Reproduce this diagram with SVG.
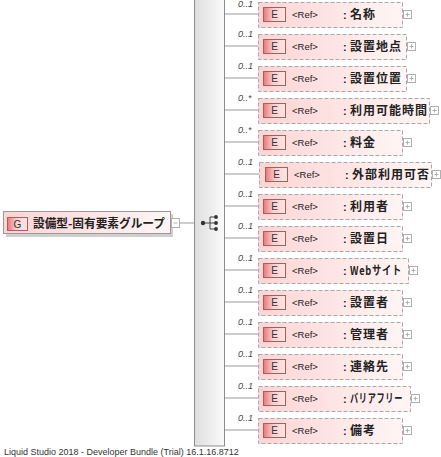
<svg xmlns="http://www.w3.org/2000/svg" width="441" height="457" viewBox="0 0 441 457">
<defs>
<linearGradient id="boxFill" x1="0" y1="0" x2="1" y2="0">
<stop offset="0" stop-color="#fcd4d4"/>
<stop offset="1" stop-color="#fff5f5"/>
</linearGradient>
<linearGradient id="iconFill" x1="0" y1="0" x2="1" y2="0">
<stop offset="0" stop-color="#e47a7a"/>
<stop offset="0.45" stop-color="#fbd0d0"/>
<stop offset="1" stop-color="#fde6e6"/>
</linearGradient>
<linearGradient id="barFill" x1="0" y1="0" x2="1" y2="0">
<stop offset="0" stop-color="#dedede"/>
<stop offset="1" stop-color="#fafafa"/>
</linearGradient>
</defs>
<style>
.box{fill:url(#boxFill);stroke:#a8a8a8;stroke-width:1;stroke-dasharray:4,2}
.icon{fill:url(#iconFill);stroke:#b05a5a;stroke-width:1}
.ilet{font-family:"Liberation Sans",Arial,sans-serif;font-size:10px;fill:#333;text-anchor:middle}
.ref{font-family:"Liberation Sans",Arial,sans-serif;font-size:9.5px;fill:#222}
.col{font-family:"Liberation Sans",Arial,sans-serif;font-size:11px;font-weight:bold;fill:#222}
.nm{font-family:"Noto Sans CJK JP","Liberation Sans",sans-serif;font-size:12px;font-weight:bold;fill:#222;letter-spacing:1px}
.card{font-family:"Liberation Sans",Arial,sans-serif;font-size:9px;font-style:italic;fill:#444}
.plus{fill:#fff;stroke:#b0b0b0;stroke-width:1}
.pl{stroke:#b0b0b0;stroke-width:1}
.conn{stroke:#9a9a9a;stroke-width:1;fill:none}
</style>

<g id="connectors">
<line class="conn" x1="180" y1="223" x2="203" y2="223"/>
<line class="conn" x1="224" y1="14" x2="258" y2="14"/>
<line class="conn" x1="224" y1="46" x2="258" y2="46"/>
<line class="conn" x1="224" y1="78" x2="258" y2="78"/>
<line class="conn" x1="224" y1="110" x2="258" y2="110"/>
<line class="conn" x1="224" y1="142" x2="258" y2="142"/>
<line class="conn" x1="224" y1="174" x2="259" y2="174"/>
<line class="conn" x1="224" y1="206" x2="258" y2="206"/>
<line class="conn" x1="224" y1="238" x2="258" y2="238"/>
<line class="conn" x1="224" y1="270" x2="258" y2="270"/>
<line class="conn" x1="224" y1="302" x2="258" y2="302"/>
<line class="conn" x1="224" y1="334" x2="258" y2="334"/>
<line class="conn" x1="224" y1="366" x2="258" y2="366"/>
<line class="conn" x1="224" y1="398" x2="258" y2="398"/>
<line class="conn" x1="224" y1="430" x2="258" y2="430"/>
</g>

<g id="group-node">
<rect x="6" y="214" width="167" height="23" fill="#cfcfcf"/>
<rect x="3.5" y="211.5" width="167" height="22" fill="url(#boxFill)" stroke="#999"/>
<rect class="icon" x="7.5" y="217.5" width="20" height="13"/>
<text class="ilet" x="17.5" y="228">G</text>
<text x="33" y="227.5" font-family="'Noto Sans CJK JP','Liberation Sans',sans-serif" font-size="12" font-weight="bold" fill="#222" textLength="132" lengthAdjust="spacingAndGlyphs">設備型-固有要素グループ</text>
<rect class="plus" x="171.5" y="218.5" width="8" height="9"/>
<line class="pl" x1="173.5" y1="223" x2="177.5" y2="223"/>
</g>

<g id="sequence">
<rect x="194.5" y="-1" width="30" height="447" fill="url(#barFill)" stroke="#8c8c8c"/>
<line x1="203" y1="223" x2="210" y2="223" stroke="#444" stroke-width="1"/>
<line x1="210" y1="217" x2="210" y2="229" stroke="#444" stroke-width="1"/>
<line x1="210" y1="217" x2="215" y2="217" stroke="#444" stroke-width="1"/>
<line x1="210" y1="229" x2="215" y2="229" stroke="#444" stroke-width="1"/>
<line x1="210" y1="223" x2="215" y2="223" stroke="#444" stroke-width="1"/>
<circle cx="203" cy="223" r="2.2" fill="#333"/>
<circle cx="216" cy="217" r="1.9" fill="#333"/>
<circle cx="216" cy="223" r="1.9" fill="#333"/>
<circle cx="216" cy="229" r="1.9" fill="#333"/>
</g>

<g id="e1">
<text class="card" x="238" y="7">0..1</text>
<rect class="box" x="258.5" y="2.5" width="144" height="25"/>
<rect class="icon" x="263.5" y="7.5" width="22" height="14"/>
<text class="ilet" x="274.5" y="18">E</text>
<text class="ref" x="292" y="18">&lt;Ref&gt;</text>
<text class="col" x="343" y="18.5">:</text>
<text class="nm" x="350" y="18.5">名称</text>
<rect class="plus" x="403.5" y="10.5" width="8" height="8"/>
<line class="pl" x1="405.5" y1="14.5" x2="409.5" y2="14.5"/><line class="pl" x1="407.5" y1="12.5" x2="407.5" y2="16.5"/>
</g>

<g id="e2">
<text class="card" x="238" y="37">0..1</text>
<rect class="box" x="258.5" y="34.5" width="148" height="25"/>
<rect class="icon" x="263.5" y="39.5" width="22" height="14"/>
<text class="ilet" x="274.5" y="50">E</text>
<text class="ref" x="292" y="50">&lt;Ref&gt;</text>
<text class="col" x="343" y="50.5">:</text>
<text class="nm" x="350" y="50.5">設置地点</text>
<rect class="plus" x="407.5" y="42.5" width="8" height="8"/>
<line class="pl" x1="409.5" y1="46.5" x2="413.5" y2="46.5"/><line class="pl" x1="411.5" y1="44.5" x2="411.5" y2="48.5"/>
</g>

<g id="e3">
<text class="card" x="238" y="69">0..1</text>
<rect class="box" x="258.5" y="66.5" width="148" height="25"/>
<rect class="icon" x="263.5" y="71.5" width="22" height="14"/>
<text class="ilet" x="274.5" y="82">E</text>
<text class="ref" x="292" y="82">&lt;Ref&gt;</text>
<text class="col" x="343" y="82.5">:</text>
<text class="nm" x="350" y="82.5">設置位置</text>
<rect class="plus" x="407.5" y="74.5" width="8" height="8"/>
<line class="pl" x1="409.5" y1="78.5" x2="413.5" y2="78.5"/><line class="pl" x1="411.5" y1="76.5" x2="411.5" y2="80.5"/>
</g>

<g id="e4">
<text class="card" x="238" y="101">0..*</text>
<rect class="box" x="258.5" y="98.5" width="171" height="25"/>
<rect class="icon" x="263.5" y="103.5" width="22" height="14"/>
<text class="ilet" x="274.5" y="114">E</text>
<text class="ref" x="292" y="114">&lt;Ref&gt;</text>
<text class="col" x="343" y="114.5">:</text>
<text class="nm" x="350" y="114.5">利用可能時間</text>
<rect class="plus" x="430.5" y="106.5" width="8" height="8"/>
<line class="pl" x1="432.5" y1="110.5" x2="436.5" y2="110.5"/><line class="pl" x1="434.5" y1="108.5" x2="434.5" y2="112.5"/>
</g>

<g id="e5">
<text class="card" x="238" y="133">0..*</text>
<rect class="box" x="258.5" y="130.5" width="144" height="25"/>
<rect class="icon" x="263.5" y="135.5" width="22" height="14"/>
<text class="ilet" x="274.5" y="146">E</text>
<text class="ref" x="292" y="146">&lt;Ref&gt;</text>
<text class="col" x="343" y="146.5">:</text>
<text class="nm" x="350" y="146.5">料金</text>
<rect class="plus" x="403.5" y="138.5" width="8" height="8"/>
<line class="pl" x1="405.5" y1="142.5" x2="409.5" y2="142.5"/><line class="pl" x1="407.5" y1="140.5" x2="407.5" y2="144.5"/>
</g>

<g id="e6">
<text class="card" x="238" y="165">0..1</text>
<rect class="box" x="259.5" y="162.5" width="172" height="25"/>
<rect class="icon" x="265.5" y="167.5" width="22" height="14"/>
<text class="ilet" x="276.5" y="178">E</text>
<text class="ref" x="294" y="178">&lt;Ref&gt;</text>
<text class="col" x="345" y="178.5">:</text>
<text class="nm" x="352" y="178.5">外部利用可否</text>
<rect class="plus" x="432.5" y="170.5" width="8" height="8"/>
<line class="pl" x1="434.5" y1="174.5" x2="438.5" y2="174.5"/><line class="pl" x1="436.5" y1="172.5" x2="436.5" y2="176.5"/>
</g>

<g id="e7">
<text class="card" x="238" y="197">0..1</text>
<rect class="box" x="258.5" y="194.5" width="144" height="25"/>
<rect class="icon" x="263.5" y="199.5" width="22" height="14"/>
<text class="ilet" x="274.5" y="210">E</text>
<text class="ref" x="292" y="210">&lt;Ref&gt;</text>
<text class="col" x="343" y="210.5">:</text>
<text class="nm" x="350" y="210.5">利用者</text>
<rect class="plus" x="403.5" y="202.5" width="8" height="8"/>
<line class="pl" x1="405.5" y1="206.5" x2="409.5" y2="206.5"/><line class="pl" x1="407.5" y1="204.5" x2="407.5" y2="208.5"/>
</g>

<g id="e8">
<text class="card" x="238" y="229">0..1</text>
<rect class="box" x="258.5" y="226.5" width="144" height="25"/>
<rect class="icon" x="263.5" y="231.5" width="22" height="14"/>
<text class="ilet" x="274.5" y="242">E</text>
<text class="ref" x="292" y="242">&lt;Ref&gt;</text>
<text class="col" x="343" y="242.5">:</text>
<text class="nm" x="350" y="242.5">設置日</text>
<rect class="plus" x="403.5" y="234.5" width="8" height="8"/>
<line class="pl" x1="405.5" y1="238.5" x2="409.5" y2="238.5"/><line class="pl" x1="407.5" y1="236.5" x2="407.5" y2="240.5"/>
</g>

<g id="e9">
<text class="card" x="238" y="261">0..1</text>
<rect class="box" x="258.5" y="258.5" width="150" height="25"/>
<rect class="icon" x="263.5" y="263.5" width="22" height="14"/>
<text class="ilet" x="274.5" y="274">E</text>
<text class="ref" x="292" y="274">&lt;Ref&gt;</text>
<text class="col" x="343" y="274.5">:</text>
<text class="nm" x="350" y="274.5" textLength="52" lengthAdjust="spacingAndGlyphs">Webサイト</text>
<rect class="plus" x="409.5" y="266.5" width="8" height="8"/>
<line class="pl" x1="411.5" y1="270.5" x2="415.5" y2="270.5"/><line class="pl" x1="413.5" y1="268.5" x2="413.5" y2="272.5"/>
</g>

<g id="e10">
<text class="card" x="238" y="293">0..1</text>
<rect class="box" x="258.5" y="290.5" width="144" height="25"/>
<rect class="icon" x="263.5" y="295.5" width="22" height="14"/>
<text class="ilet" x="274.5" y="306">E</text>
<text class="ref" x="292" y="306">&lt;Ref&gt;</text>
<text class="col" x="343" y="306.5">:</text>
<text class="nm" x="350" y="306.5">設置者</text>
<rect class="plus" x="403.5" y="298.5" width="8" height="8"/>
<line class="pl" x1="405.5" y1="302.5" x2="409.5" y2="302.5"/><line class="pl" x1="407.5" y1="300.5" x2="407.5" y2="304.5"/>
</g>

<g id="e11">
<text class="card" x="238" y="325">0..1</text>
<rect class="box" x="258.5" y="322.5" width="144" height="25"/>
<rect class="icon" x="263.5" y="327.5" width="22" height="14"/>
<text class="ilet" x="274.5" y="338">E</text>
<text class="ref" x="292" y="338">&lt;Ref&gt;</text>
<text class="col" x="343" y="338.5">:</text>
<text class="nm" x="350" y="338.5">管理者</text>
<rect class="plus" x="403.5" y="330.5" width="8" height="8"/>
<line class="pl" x1="405.5" y1="334.5" x2="409.5" y2="334.5"/><line class="pl" x1="407.5" y1="332.5" x2="407.5" y2="336.5"/>
</g>

<g id="e12">
<text class="card" x="238" y="357">0..1</text>
<rect class="box" x="258.5" y="354.5" width="144" height="25"/>
<rect class="icon" x="263.5" y="359.5" width="22" height="14"/>
<text class="ilet" x="274.5" y="370">E</text>
<text class="ref" x="292" y="370">&lt;Ref&gt;</text>
<text class="col" x="343" y="370.5">:</text>
<text class="nm" x="350" y="370.5">連絡先</text>
<rect class="plus" x="403.5" y="362.5" width="8" height="8"/>
<line class="pl" x1="405.5" y1="366.5" x2="409.5" y2="366.5"/><line class="pl" x1="407.5" y1="364.5" x2="407.5" y2="368.5"/>
</g>

<g id="e13">
<text class="card" x="238" y="389">0..1</text>
<rect class="box" x="258.5" y="386.5" width="152" height="25"/>
<rect class="icon" x="263.5" y="391.5" width="22" height="14"/>
<text class="ilet" x="274.5" y="402">E</text>
<text class="ref" x="292" y="402">&lt;Ref&gt;</text>
<text class="col" x="343" y="402.5">:</text>
<text class="nm" x="350" y="402.5" textLength="53" lengthAdjust="spacingAndGlyphs">バリアフリー</text>
<rect class="plus" x="411.5" y="394.5" width="8" height="8"/>
<line class="pl" x1="413.5" y1="398.5" x2="417.5" y2="398.5"/><line class="pl" x1="415.5" y1="396.5" x2="415.5" y2="400.5"/>
</g>

<g id="e14">
<text class="card" x="238" y="421">0..1</text>
<rect class="box" x="258.5" y="418.5" width="144" height="25"/>
<rect class="icon" x="263.5" y="423.5" width="22" height="14"/>
<text class="ilet" x="274.5" y="434">E</text>
<text class="ref" x="292" y="434">&lt;Ref&gt;</text>
<text class="col" x="343" y="434.5">:</text>
<text class="nm" x="350" y="434.5">備考</text>
<rect class="plus" x="403.5" y="426.5" width="8" height="8"/>
<line class="pl" x1="405.5" y1="430.5" x2="409.5" y2="430.5"/><line class="pl" x1="407.5" y1="428.5" x2="407.5" y2="432.5"/>
</g>

<text x="4" y="455" font-family="'Liberation Sans',Arial,sans-serif" font-size="9" fill="#333">Liquid Studio 2018 - Developer Bundle (Trial) 16.1.16.8712</text>
</svg>
